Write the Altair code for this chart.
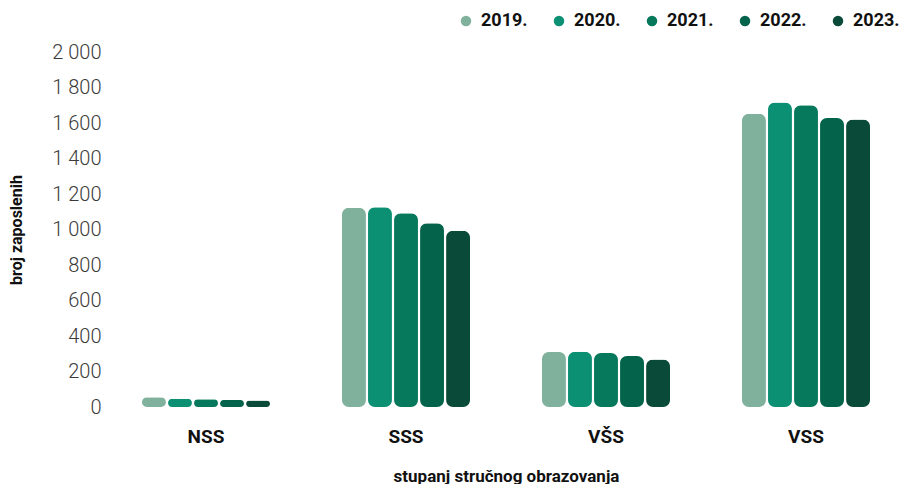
import altair as alt
import pandas as pd

categories = ["NSS", "SSS", "VŠS", "VSS"]
years = ["2019.", "2020.", "2021.", "2022.", "2023."]
v2019 = [55, 1122, 310, 1652]
v2020 = [46, 1125, 311, 1715]
v2021 = [43, 1092, 304, 1700]
v2022 = [40, 1035, 287, 1628]
v2023 = [37, 993, 268, 1620]
colors = ["#80b19d", "#0b9073", "#06785b", "#04634b", "#0a4a38"]

series = [v2019, v2020, v2021, v2022, v2023]
rows = []
for y, vals in zip(years, series):
    for c, v in zip(categories, vals):
        rows.append({"kat": c, "godina": y, "broj": v})
df = pd.DataFrame(rows)

chart = alt.Chart(df).mark_bar(cornerRadius=7).encode(
    x=alt.X("kat:N", sort=categories,
            scale=alt.Scale(paddingInner=0.36, paddingOuter=0.18),
            axis=alt.Axis(title="stupanj stručnog obrazovanja", labelAngle=0,
                          domain=False, ticks=False, labelPadding=20,
                          labelFontSize=19, labelFontWeight="bold", labelColor="#111",
                          titleFontSize=17, titleFontWeight="bold", titleColor="#111",
                          titlePadding=22)),
    xOffset=alt.XOffset("godina:N", sort=years, scale=alt.Scale(paddingInner=0.08)),
    y=alt.Y("broj:Q", scale=alt.Scale(domain=[0, 2000]),
            axis=alt.Axis(title="broj zaposlenih", values=list(range(0, 2001, 200)),
                          labelExpr="replace(format(datum.value, ',d'), ',', ' ')",
                          grid=False, domain=False, ticks=False, labelPadding=5,
                          labelFontSize=20, labelColor="#3a3a3a", labelFontWeight=300,
                          titleFontSize=16, titleFontWeight="bold", titleColor="#111",
                          titlePadding=27)),
    color=alt.Color("godina:N", sort=years,
                    scale=alt.Scale(domain=years, range=colors),
                    legend=alt.Legend(title=None, orient="none", legendX=351, legendY=-40,
                                      direction="horizontal", columns=5,
                                      symbolType="circle", symbolSize=110,
                                      labelFontSize=18, labelFontWeight="bold",
                                      labelColor="#111", columnPadding=22,
                                      labelOffset=6)),
).properties(
    width=800, height=355,
    padding={"top": 4, "left": 0, "right": 0, "bottom": 0},
).configure(
    font="Roboto"
).configure_view(stroke=None)

chart.save("out.html", embed_options={"renderer": "svg", "actions": False})
